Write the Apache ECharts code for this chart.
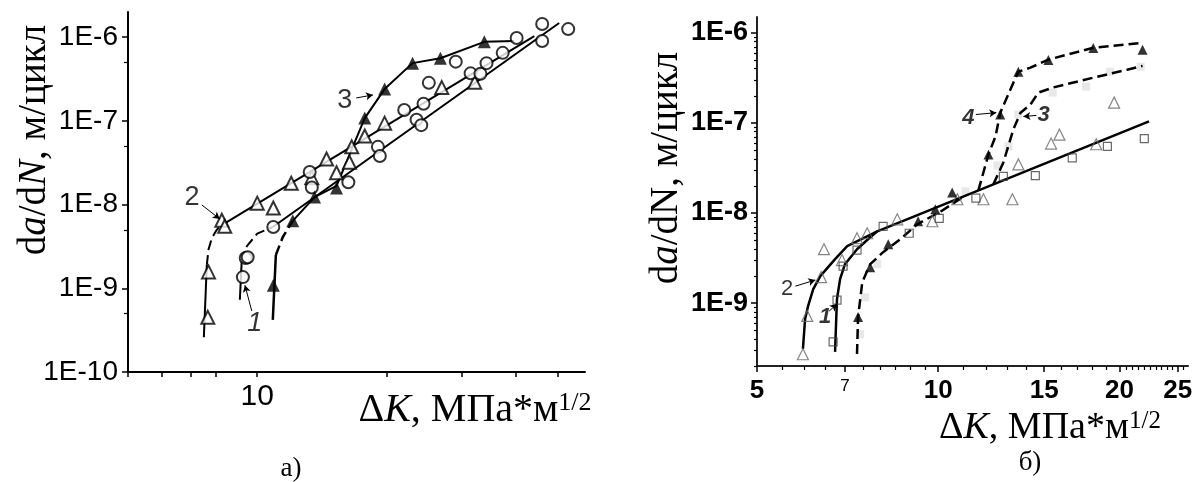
<!DOCTYPE html>
<html><head><meta charset="utf-8">
<script src="https://cdn.jsdelivr.net/npm/echarts@6/dist/echarts.min.js"></script>
<style>html,body{margin:0;padding:0;background:#fff}#c{width:1203px;height:482px}</style>
</head><body><div id="c"></div>
<script>
// ---------- Panel а) ----------
const aTriOpen = [[7.67,4.5e-10],[7.70,1.57e-9],[8.27,6.5e-9],[8.40,5.5e-9],[10.0,1.04e-8],[10.9,9.1e-9],[12.0,1.8e-8],[13.4,2.1e-8],[14.5,3.5e-8],[15.3,2.4e-8],[16.4,3.2e-8],[16.6,4.9e-8],[17.8,6.6e-8],[19.8,9.4e-8],[26.9,2.5e-7],[32.1,2.9e-7]];
const aCircle = [[9.26,1.36e-9],[9.4,2.3e-9],[9.5,2.35e-9],[10.9,5.4e-9],[13.25,2.45e-8],[13.4,1.6e-8],[16.3,1.85e-8],[19.1,4.9e-8],[19.3,3.8e-8],[22.0,1.35e-7],[23.5,1.03e-7],[24.1,8.9e-8],[24.4,1.6e-7],[25.1,2.85e-7],[29.0,5.1e-7],[31.4,3.7e-7],[33.1,3.65e-7],[34.2,4.9e-7],[37.3,6.5e-7],[40.2,9.8e-7],[46.1,9.0e-7],[46.1,1.44e-6],[53.0,1.25e-6]];
const aTriFilled = [[10.9,1.09e-9],[12.1,6.4e-9],[13.6,1.23e-8],[15.3,1.58e-8],[17.8,1.08e-7],[19.8,2.4e-7],[23.0,4.9e-7],[26.7,5.6e-7],[33.8,8.8e-7]];
const aCurve2Solid = [[7.51,2.6e-10],[7.63,1.9e-9]];
const aCurve2Dash = [[7.63,1.9e-9],[7.70,2.9e-9],[7.84,4.0e-9],[8.05,5.0e-9],[8.27,5.7e-9]];
const aLine2 = [[8.27,5.7e-9],[44.2,1.03e-6]];
const aCurve1Solid = [[9.11,7.3e-10],[9.2,2.1e-9]];
const aCurve1Dash = [[9.2,2.1e-9],[9.46,3.2e-9],[10.0,4.5e-9],[10.87,5.4e-9]];
const aLine1 = [[10.87,5.4e-9],[50.5,1.48e-6]];
const aCurve3Solid = [[10.87,4.2e-10],[11.05,2.5e-9]];
const aCurve3Dash = [[11.05,2.5e-9],[11.47,4.1e-9],[12.1,6.4e-9]];
const aLine3 = [[12.1,6.4e-9],[13.6,1.23e-8],[15.3,1.67e-8],[17.8,1.08e-7],[19.8,2.4e-7],[23.0,4.9e-7],[26.7,5.6e-7],[33.8,8.8e-7],[39.7,9.0e-7]];
const aXTicks = [5,6,7,8,10,20,30,40,50];
const aXLabels = [10];
const aYMajor = [1e-10,1e-9,1e-8,1e-7,1e-6];
const aYMinor = [5e-10,5e-9,5e-8,5e-7];
const aNotes = [
  {t:'2', at:[7.05,1.23e-8], from:[7.43,9.9e-9], to:[8.18,6.73e-9], it:false},
  {t:'3', at:[16.0,1.73e-7], from:[17.0,1.88e-7], to:[18.6,2.04e-7], it:false},
  {t:'1', at:[9.87,3.85e-10], from:[9.71,5.36e-10], to:[9.36,1.09e-9], it:true}
];

// ---------- Panel б) ----------
const bTriOpen = [[5.96,2.7e-10],[6.06,7.2e-10],[6.39,1.94e-9],[6.46,3.96e-9],[6.92,3.0e-9],[7.33,5.25e-9],[7.62,5.96e-9],[8.55,8.5e-9],[9.78,8.1e-9],[10.76,1.42e-8],[11.89,1.42e-8],[13.28,1.42e-8],[13.59,3.46e-8],[15.4,5.9e-8],[15.9,7.4e-8],[18.3,5.8e-8],[19.6,1.68e-7]];
const bSquareOpen = [[6.69,3.7e-10],[6.79,1.08e-9],[6.95,2.57e-9],[7.33,3.86e-9],[8.10,7.1e-9],[8.95,5.96e-9],[10.04,8.7e-9],[11.55,1.46e-8],[12.83,2.55e-8],[14.5,2.6e-8],[16.7,4.1e-8],[19.1,5.5e-8],[22.0,6.7e-8]];
const bSquareGrey = [[7.42,4.5e-10],[7.56,1.16e-9],[7.92,2.7e-9],[11.1,1.74e-8],[12.54,3.38e-8],[13.08,5.5e-8],[13.59,1.24e-7],[15.5,2.17e-7],[17.6,2.53e-7],[19.3,3.7e-7],[21.7,4.2e-7]];
const bTriFilled = [[7.36,7.0e-10],[7.71,2.5e-9],[8.26,4.5e-9],[9.26,8.1e-9],[9.89,1.1e-8],[10.55,1.69e-8],[12.12,4.47e-8],[12.68,1.24e-7],[13.59,3.7e-7],[15.24,5.0e-7],[18.1,6.8e-7],[21.85,6.5e-7]];
const bMainLine = [[7.92,6.26e-9],[22.4,1.04e-7]];
const bCurve2 = [[5.96,3.1e-10],[6.01,6.65e-10],[6.08,9.3e-10],[6.20,1.43e-9],[6.37,1.99e-9],[6.74,3.07e-9],[7.06,4.28e-9],[7.92,6.26e-9]];
const bCurve1 = [[6.74,2.87e-10],[6.77,6.65e-10],[6.79,1.11e-9],[6.87,1.84e-9],[7.00,2.70e-9],[7.33,3.96e-9],[7.71,5.38e-9],[7.92,6.26e-9]];
const bLowerDash = [[7.33,2.72e-10],[7.36,7.0e-10],[7.48,1.71e-9],[7.71,2.7e-9],[8.10,3.67e-9],[8.65,5.11e-9],[9.23,7.5e-9],[10.1,1.04e-8],[11.1,1.57e-8]];
const bCurve4 = [[11.66,1.78e-8],[12.12,4.47e-8],[12.45,7.07e-8],[12.68,1.30e-7],[13.33,2.80e-7],[13.59,3.71e-7],[14.23,4.11e-7],[15.24,5.04e-7],[18.1,6.84e-7],[21.85,7.76e-7]];
const bCurve3 = [[12.35,2.08e-8],[12.83,3.64e-8],[13.33,8.45e-8],[13.7,1.30e-7],[14.23,1.60e-7],[14.67,2.17e-7],[15.5,2.47e-7],[18.1,3.18e-7],[20.6,3.9e-7],[21.85,4.3e-7]];
const bXLabels = [5,7,10,15,20,25];
const bXMinor = [5.5,6,6.5,7.5,8,8.5,9,9.5,11,12,13,14,16,17,18,19,20.5,21,21.5,22,22.5,23,23.5,24,24.5,25.5];
const bYMajor = [1e-9,1e-8,1e-7,1e-6];
const bYMinor = [2e-10,3e-10,4e-10,5e-10,6e-10,7e-10,8e-10,9e-10,2e-9,3e-9,4e-9,5e-9,6e-9,7e-9,8e-9,9e-9,2e-8,3e-8,4e-8,5e-8,6e-8,7e-8,8e-8,9e-8,2e-7,3e-7,4e-7,5e-7,6e-7,7e-7,8e-7,9e-7];
const bNotes = [
  {t:'2', at:[5.61,1.43e-9], from:[5.79,1.54e-9], to:[6.25,1.80e-9], it:false, b:false},
  {t:'1', at:[6.49,7.0e-10], from:[6.59,8.15e-10], to:[6.79,9.75e-10], it:true, b:true},
  {t:'4', at:[11.22,1.15e-7], from:[11.55,1.24e-7], to:[12.49,1.30e-7], it:true, b:true},
  {t:'3', at:[14.96,1.24e-7], from:[14.56,1.21e-7], to:[13.85,1.18e-7], it:true, b:true}
];

const L = v => Math.log10(v);
const P = arr => arr.map(p => [L(p[0]), L(p[1])]);
const SANS = 'Liberation Sans';
const SERIF = 'Liberation Serif';

function lineS(data, gi, opts) {
  return { type:'line', xAxisIndex: gi*2, yAxisIndex: gi*2, data: P(data), symbol:'none', silent:true,
    lineStyle:{ color:'#000', width: opts.w || 2, type: opts.dash ? [10,5] : 'solid' }, z: 2 };
}
function scat(data, gi, symbol, size, style, z) {
  return { type:'scatter', xAxisIndex: gi*2, yAxisIndex: gi*2, data: P(data), symbol, symbolSize: size,
    itemStyle: style, silent:true, z: z || 3 };
}
function notes(list, gi, fs) {
  return [{
    type:'line', xAxisIndex: gi*2, yAxisIndex: gi*2, data: [], silent:true,
    markLine: { silent:true, symbol:['none','arrow'], symbolSize:[6,7], animation:false,
      lineStyle:{ color:'#000', width:1, type:'solid' }, label:{show:false},
      data: list.map(n => [{coord:[L(n.from[0]),L(n.from[1])]},{coord:[L(n.to[0]),L(n.to[1])]}]) }
  },{
    type:'scatter', xAxisIndex: gi*2, yAxisIndex: gi*2, symbolSize: 0, silent:true, z:5,
    data: list.map(n => ({ value:[L(n.at[0]),L(n.at[1])], name:n.t,
      label:{ show:true, position:'inside', formatter:n.t, fontSize: fs, color:'#000', fontFamily: SANS,
        fontStyle: n.it ? 'italic' : 'normal', fontWeight: n.b ? 'bold' : 'normal' } }))
  }];
}

function xAxes(gi, min, max, majorT, minorT, labels, labelOpts, majorLen) {
  return [{
    gridIndex: gi, type:'value', min: L(min), max: L(max), position:'bottom',
    axisLine:{ show:true, onZero:false, lineStyle:{ color: gi ? '#222' : '#000', width:2 } },
    axisTick:{ show:true, customValues: majorT.map(L), length: majorLen, lineStyle:{ color:'#000', width:1.5 } },
    axisLabel: Object.assign({ customValues: labels.map(L), color:'#000' }, labelOpts),
    splitLine:{ show:false }
  },{
    gridIndex: gi, type:'value', min: L(min), max: L(max), position:'bottom',
    axisLine:{ show:false }, axisLabel:{ show:false }, splitLine:{show:false},
    axisTick:{ show: minorT.length > 0, customValues: minorT.map(L), length: 4, lineStyle:{ color:'#000', width:1.2 } }
  }];
}
function yAxes(gi, min, max, majorT, minorT, labelOpts, majorLen, minorLen) {
  return [{
    gridIndex: gi, type:'value', min: L(min), max: L(max), position:'left',
    axisLine:{ show:true, onZero:false, lineStyle:{ color: gi ? '#222' : '#000', width:2 } },
    axisTick:{ show:true, customValues: majorT.map(L), length: majorLen, lineStyle:{ color:'#000', width:1.5 } },
    axisLabel: Object.assign({ customValues: majorT.map(L), color:'#000',
      formatter: v => '1E' + Math.round(v) }, labelOpts),
    splitLine:{ show:false }
  },{
    gridIndex: gi, type:'value', min: L(min), max: L(max), position:'left',
    axisLine:{ show:false }, axisLabel:{ show:false }, splitLine:{show:false},
    axisTick:{ show:true, customValues: minorT.map(L), length: minorLen, lineStyle:{ color:'#000', width:1.2 } }
  }];
}

const chart = echarts.init(document.getElementById('c'), null, { renderer:'canvas' });

const openStyle = { color:'#fff', borderColor:'#000', borderWidth:2 };

const option = {
  animation: false,
  backgroundColor: '#fff',
  grid: [
    { left:128, top:12, width:457, height:360, containLabel:false, outerBoundsMode:'none' },
    { left:757, top:17, width:431, height:349, containLabel:false, outerBoundsMode:'none' }
  ],
  xAxis: [
    ...xAxes(0, 5, 58, aXTicks, [], aXLabels,
      { fontSize:30, fontFamily:SANS, margin:10, formatter: v => String(Math.round(Math.pow(10, v))) }, 5),
    ...xAxes(1, 5, 26, bXLabels, bXMinor, bXLabels,
      { fontFamily:SANS, margin:12,
        formatter: v => { const k = Math.round(Math.pow(10, v)); return k === 7 ? '{s|7}' : '{b|' + k + '}'; },
        rich: { b:{ fontSize:26, fontWeight:'bold', fontFamily:SANS, color:'#000' },
                s:{ fontSize:17, fontFamily:SANS, color:'#000' } } }, 6)
  ],
  yAxis: [
    ...yAxes(0, 1e-10, 2e-6, aYMajor, aYMinor, { fontSize:28, fontFamily:SANS, margin:10 }, 6, 4),
    ...yAxes(1, 2e-10, 1.5e-6, bYMajor, bYMinor, { fontSize:27, fontFamily:SANS, fontWeight:'bold', margin:9 }, 6, 3)
  ],
  series: [
    // panel а
    lineS(aCurve2Solid, 0, {}), lineS(aCurve2Dash, 0, {dash:true}), lineS(aLine2, 0, {}),
    lineS(aCurve1Solid, 0, {}), lineS(aCurve1Dash, 0, {dash:true}), lineS(aLine1, 0, {}),
    lineS(aCurve3Solid, 0, {w:2.5}), lineS(aCurve3Dash, 0, {dash:true, w:2.5}), lineS(aLine3, 0, {}),
    scat(aTriOpen, 0, 'triangle', 13, openStyle),
    scat(aCircle, 0, 'circle', 12, openStyle),
    scat(aTriFilled, 0, 'triangle', 13, { color:'#000' }),
    ...notes(aNotes, 0, 27),
    // panel б
    lineS(bMainLine, 1, {w:2.5}), lineS(bCurve2, 1, {w:2.5}), lineS(bCurve1, 1, {w:2.5}),
    lineS(bLowerDash, 1, {dash:true, w:2.5}), lineS(bCurve4, 1, {dash:true, w:2.5}), lineS(bCurve3, 1, {dash:true, w:2.5}),
    scat(bTriOpen, 1, 'triangle', 11, { color:'rgba(255,255,255,0)', borderColor:'#666', borderWidth:1.2 }, 4),
    scat(bSquareOpen, 1, 'rect', 8, { color:'rgba(255,255,255,0)', borderColor:'#444', borderWidth:1.2 }, 4),
    scat(bSquareGrey, 1, 'rect', 8, { color:'#e2e2e2' }, 1),
    scat(bTriFilled, 1, 'triangle', 10, { color:'#000' }, 4),
    ...notes(bNotes, 1, 22)
  ],
  graphic: [
    { type:'text', x:35, y:140, rotation:Math.PI/2, silent:true,
      style:{ text:'{n|d}{i|a}{n|/d}{i|N}{n|, м/цикл}', align:'center', verticalAlign:'middle',
        rich:{ n:{ fontSize:39, fontFamily:SERIF, fill:'#000' }, i:{ fontSize:39, fontFamily:SERIF, fontStyle:'italic', fill:'#000' } } } },
    { type:'text', x:667, y:168, rotation:Math.PI/2, silent:true,
      style:{ text:'{n|d}{i|a}{n|/dN, м/цикл}', align:'center', verticalAlign:'middle',
        rich:{ n:{ fontSize:39, fontFamily:SERIF, fill:'#000' }, i:{ fontSize:39, fontFamily:SERIF, fontStyle:'italic', fill:'#000' } } } },
    { type:'text', x:475, y:410, silent:true,
      style:{ text:'{n|Δ}{i|K}{n|, МПа*м}{s|1/2}', align:'center', verticalAlign:'middle',
        rich:{ n:{ fontSize:40, fontFamily:SERIF, fill:'#000' }, i:{ fontSize:40, fontFamily:SERIF, fontStyle:'italic', fill:'#000' },
               s:{ fontSize:26, fontFamily:SERIF, fill:'#000', verticalAlign:'top' } } } },
    { type:'text', x:1050, y:428, silent:true,
      style:{ text:'{n|Δ}{i|K}{n|, МПа*м}{s|1/2}', align:'center', verticalAlign:'middle',
        rich:{ n:{ fontSize:38, fontFamily:SERIF, fill:'#000' }, i:{ fontSize:38, fontFamily:SERIF, fontStyle:'italic', fill:'#000' },
               s:{ fontSize:25, fontFamily:SERIF, fill:'#000', verticalAlign:'top' } } } },
    { type:'text', x:291, y:469, silent:true,
      style:{ text:'а)', align:'center', verticalAlign:'middle', fontSize:27, fontFamily:SERIF, fill:'#000' } },
    { type:'text', x:1030, y:463, silent:true,
      style:{ text:'б)', align:'center', verticalAlign:'middle', fontSize:27, fontFamily:SERIF, fill:'#000' } }
  ]
};
chart.setOption(option);
</script>
</body></html>
